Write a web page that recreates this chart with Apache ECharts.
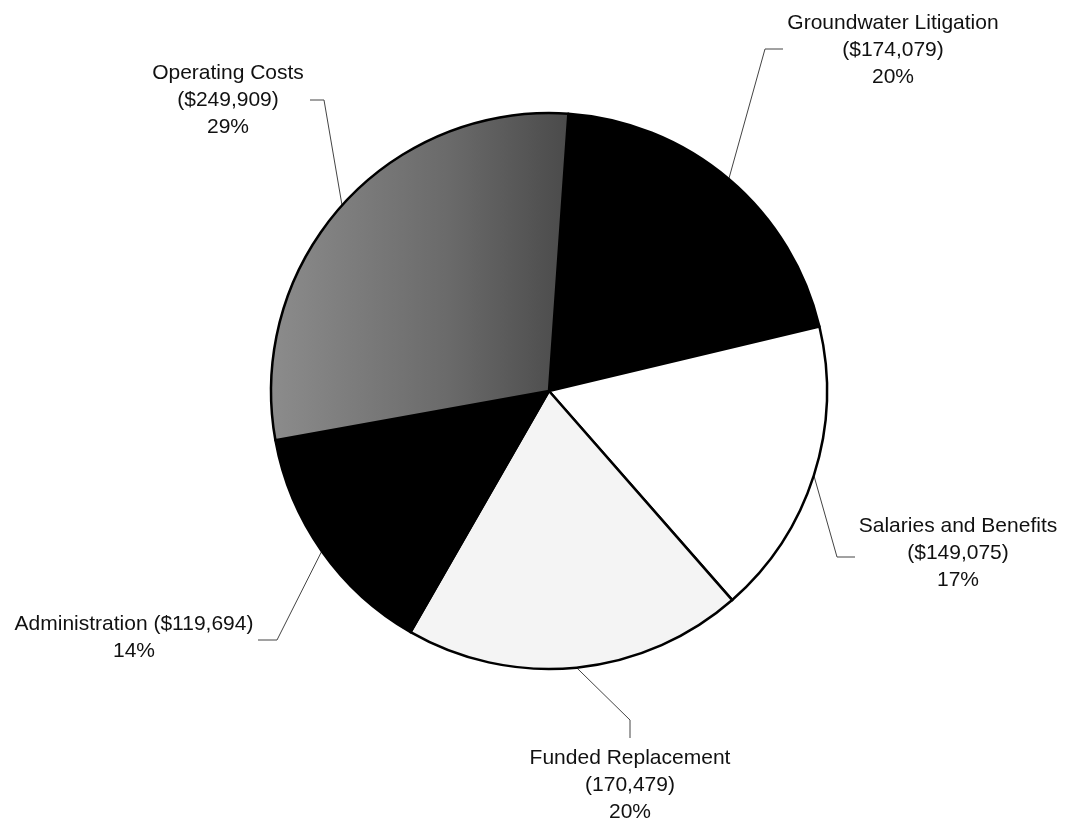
<!DOCTYPE html>
<html>
    <head>
        <meta charset="UTF-8">
        <title>Budget pie</title>
        <script type="text/javascript" src="https://cdn.jsdelivr.net/npm/echarts@6/dist/echarts.min.js"></script>
    </head>
    <body style="height: 100%; margin: 0; background: #fff;">
        <div id="container" style="width: 1066px; height: 824px;"></div>
    </body>
    <script type="text/javascript">
        var dom = document.getElementById("container");
        var myChart = echarts.init(dom);

        // data, clockwise from the top
        const categories = ['Groundwater Litigation', 'Salaries and Benefits', 'Funded Replacement', 'Administration', 'Operating Costs'];
        const amounts = [174079, 149075, 170479, 119694, 249909];
        // how each label prints its amount
        const currencySign = ['$', '$', '', '$', '$'];
        const nameBreak = ['\n', '\n', '\n', ' ', '\n'];

        // slice fills
        const fills = [
          '#000000',
          '#ffffff',
          '#f4f4f4',
          '#000000',
          { type: 'linear', x: 0, y: 0, x2: 1, y2: 0,
            colorStops: [{ offset: 0, color: '#8c8c8c' }, { offset: 0.6, color: '#6a6a6a' }, { offset: 1, color: '#4a4a4a' }] }
        ];

        // where each label sits and how its leader bends
        const labelSpots = [
          { x: 893, y: 50,  elbow: [765, 49],  end: [783, 49] },
          { x: 958, y: 553, elbow: [837, 557], end: [855, 557] },
          { x: 630, y: 785, elbow: [630, 720], end: [630, 738] },
          { x: 134, y: 638, elbow: [277, 640], end: [258, 640] },
          { x: 228, y: 100, elbow: [324, 100], end: [310, 100] }
        ];

        var pieData = categories.map(function (name, i) {
          return { name: name, value: amounts[i], itemStyle: { color: fills[i] } };
        });

        var option = {
          animation: false,
          backgroundColor: '#ffffff',
          series: [
            {
              type: 'pie',
              center: [549, 391],
              radius: 278,
              startAngle: 86,
              clockwise: true,
              percentPrecision: 0,
              avoidLabelOverlap: false,
              data: pieData,
              itemStyle: {
                borderColor: '#000000',
                borderWidth: 2.5
              },
              label: {
                show: true,
                position: 'outside',
                color: '#111111',
                fontFamily: '"Liberation Sans", Arial, sans-serif',
                fontSize: 21,
                lineHeight: 27,
                formatter: function (p) {
                  var i = p.dataIndex;
                  return p.name + nameBreak[i] + '(' + currencySign[i] +
                    p.value.toLocaleString('en-US') + ')\n' + p.percent + '%';
                }
              },
              labelLine: {
                show: true,
                length: 20,
                length2: 20,
                lineStyle: { color: '#444444', width: 1 }
              },
              labelLayout: function (params) {
                var s = labelSpots[params.dataIndex];
                var start = params.labelLinePoints ? params.labelLinePoints[0] : s.elbow;
                return {
                  x: s.x,
                  y: s.y,
                  align: 'center',
                  verticalAlign: 'middle',
                  labelLinePoints: [start, s.elbow, s.end]
                };
              },
              emphasis: { disabled: true }
            }
          ]
        };

        if (option && typeof option === 'object') {
            myChart.setOption(option);
        }
    </script>
</html>
